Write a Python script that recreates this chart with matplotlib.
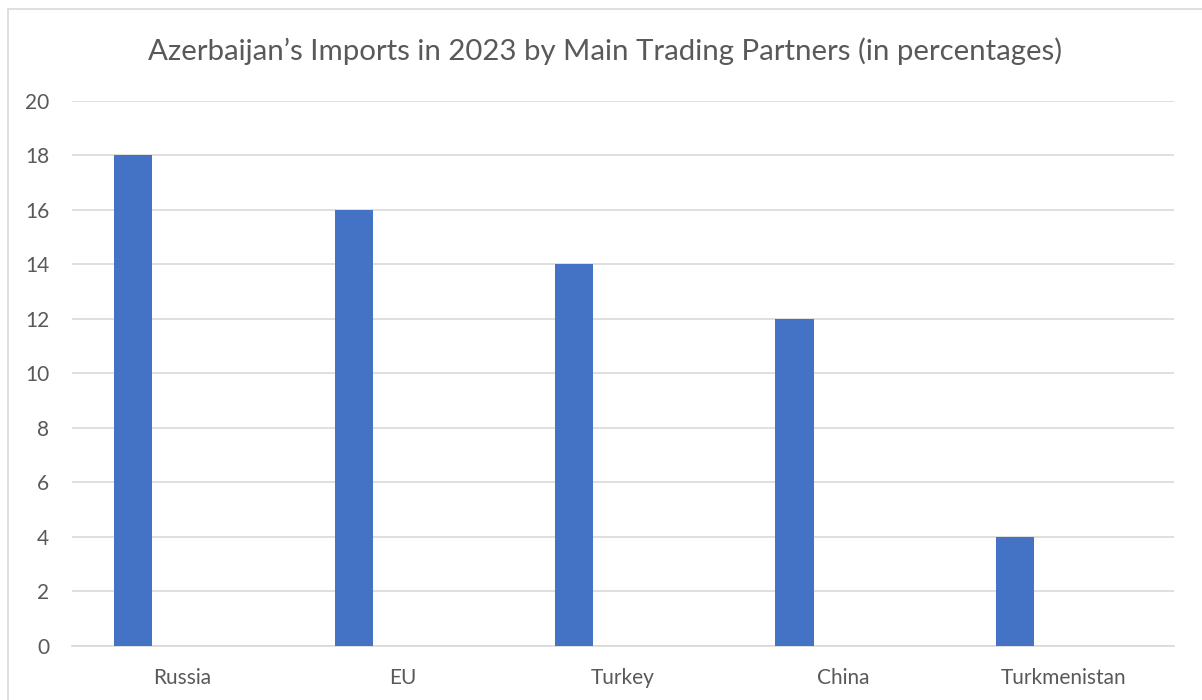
import numpy as np
import matplotlib.pyplot as plt
from matplotlib.patches import Rectangle

# Import shares by partner, 2023 (%)
partners = ['Russia', 'EU', 'Turkey', 'China', 'Turkmenistan']
shares = [18, 16, 14, 12, 4]
y_ticks = [0, 2, 4, 6, 8, 10, 12, 14, 16, 18, 20]

text_color = '#595959'
grid_color = '#D9D9D9'
bar_color = '#4472C4'

plt.rcParams['font.family'] = ['Lato', 'DejaVu Sans']

fig = plt.figure(figsize=(12.02, 7.0), dpi=100)
W, H = 1202, 700

# light chart border (partly outside the canvas on the right/bottom)
fig.patches.append(Rectangle((8 / W, -0.05), 1.2, (700 - 9) / H + 0.05,
                             transform=fig.transFigure, fill=False,
                             edgecolor='#D9D9D9', linewidth=1.2))

ax = fig.add_axes([72 / W, (700 - 645.5) / H, 1102 / W, (645.5 - 101) / H])

x = np.arange(len(partners))
ax.bar(x - 0.222, shares, width=0.173, color=bar_color, zorder=3)

ax.set_xlim(-0.5, len(partners) - 0.5)
ax.set_ylim(0, 20)
ax.set_yticks(y_ticks)
ax.set_xticks(x)
ax.set_xticklabels(partners)

ax.grid(axis='y', color=grid_color, linewidth=1.2, zorder=0)
ax.set_axisbelow(True)
for side in ['top', 'right', 'left']:
    ax.spines[side].set_visible(False)
ax.spines['bottom'].set_color(grid_color)
ax.spines['bottom'].set_linewidth(1.2)
ax.tick_params(axis='both', length=0, labelsize=15, labelcolor=text_color)
ax.tick_params(axis='x', pad=16)
ax.tick_params(axis='y', pad=16.5)

fig.text(0.5 + 4 / W, 1 - 51 / H,
         'Azerbaijan\u2019s Imports in 2023 by Main Trading Partners (in percentages)',
         ha='center', va='center', fontsize=21.2, color=text_color)

fig.savefig('out.png', dpi=100, facecolor='white')
